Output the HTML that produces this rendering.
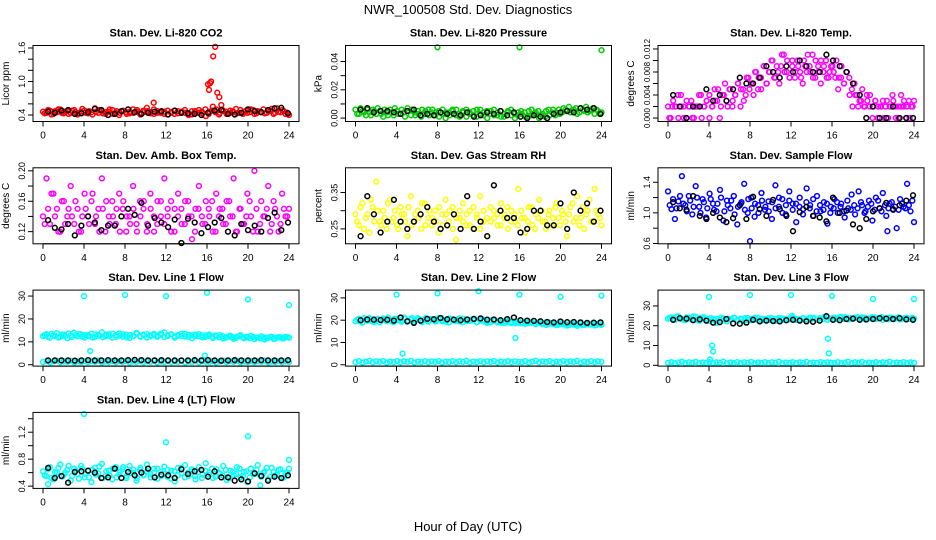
<!DOCTYPE html>
<html><head><meta charset="utf-8"><style>
html,body{margin:0;padding:0;background:#fff;}
svg{display:block;font-family:"Liberation Sans",sans-serif;}
</style></head><body>
<svg id="chart" width="936" height="540" viewBox="0 0 936 540" xmlns="http://www.w3.org/2000/svg">
<rect width="936" height="540" fill="#fff"/>
<text x="468" y="14" text-anchor="middle" font-size="13">NWR_100508  Std. Dev. Diagnostics</text>
<text x="468" y="531" text-anchor="middle" font-size="13">Hour of Day (UTC)</text>
</svg>
<script>
// ---- data ----
const xTicks = [0,4,8,12,16,20,24];
const co2Red = [0.46,0.44,0.48,0.42,0.45,0.50,0.43,0.47,0.44,0.49,0.41,0.46,0.48,0.43,0.45,0.52,0.44,0.47,0.42,0.46,0.49,0.44,0.40,0.47,0.45,0.43,0.50,0.46,0.44,0.48,0.53,0.45,0.42,0.47,0.44,0.46,0.41,0.45,0.48,0.43,0.46,0.44,0.40,0.47,0.45,0.49,0.43,0.38,0.46,0.55,0.50,0.44,0.47,0.42,0.48,0.45,0.43,0.49,0.46,0.44,0.50,0.42,0.47,0.45,0.43,0.48,0.51,0.44,0.46,0.49,0.42,0.40];
const co2Red2 = [0.43,0.49,0.41,0.47,0.50,0.44,0.46,0.42,0.48,0.45,0.43,0.51,0.44,0.47,0.41,0.46,0.49,0.43,0.45,0.50,0.42,0.47,0.44,0.48,0.42,0.46,0.44,0.49,0.41,0.45,0.47,0.43,0.50,0.44,0.46,0.42,0.48,0.44,0.42,0.47,0.45,0.49,0.43,0.41,0.47,0.44,0.46,0.50,0.42,0.48,0.45,0.41,0.49,0.46,0.43,0.47,0.51,0.44,0.42,0.48,0.45,0.49,0.43,0.46,0.50,0.44,0.47,0.42,0.52,0.45,0.47,0.44];
const co2OutX = [10.8,16.1,16.2,16.3,16.4,16.6,16.8,17.0,17.2,17.4];
const co2OutY = [0.62,0.95,0.85,0.97,1.0,1.45,1.62,0.80,0.72,0.58];
const co2Black = [0.46,0.44,0.48,0.49,0.42,0.43,0.45,0.51,0.49,0.40,0.42,0.47,0.50,0.45,0.42,0.44,0.46,0.47,0.41,0.48,0.44,0.43,0.42,0.40,0.44,0.48,0.49,0.42,0.41,0.44,0.50,0.47,0.45,0.49,0.52,0.53,0.43];
const presGreen = [0.006,0.003,0.005,0.002,0.004,0.006,0.003,0.005,0.001,0.004,0.006,0.002,0.005,0.003,0.004,0.007,0.002,0.004,0.005,0.001,0.003,0.006,0.004,0.002,0.005,0.003,0.000,0.004,0.006,0.002,0.003,0.005,0.001,0.004,0.002,0.006,0.003,0.004,0.000,0.005,0.002,0.004,0.001,0.003,0.005,0.002,0.000,0.004,0.003,0.001,0.005,0.002,0.004,0.000,0.003,0.005,0.002,0.006,0.004,0.003,0.007,0.005,0.004,0.006,0.003,0.007,0.005,0.004,0.006,0.003,0.005,0.004];
const presGreen2 = [0.003,0.007,0.004,0.006,0.002,0.005,0.007,0.003,0.006,0.002,0.004,0.007,0.003,0.006,0.001,0.005,0.006,0.002,0.003,0.006,0.005,0.002,0.006,0.004,0.001,0.006,0.004,0.002,0.005,0.006,0.001,0.004,0.006,0.003,0.005,0.001,0.006,0.002,0.005,0.003,0.006,0.002,0.005,0.001,0.004,0.006,0.003,0.002,0.005,0.004,0.001,0.006,0.003,0.005,0.002,0.001,0.006,0.004,0.002,0.006,0.004,0.006,0.008,0.005,0.007,0.004,0.006,0.008,0.005,0.007,0.006,0.003];
const presOutX = [8,16,24];
const presOutY = [0.050,0.050,0.048];
const presBlack = [0.006,0.007,0.004,0.005,0.005,0.004,0.003,0.005,0.006,0.002,0.003,0.002,0.004,0.003,0.003,0.002,0.004,0.001,0.002,0.004,0.003,0.005,0.002,0.004,0.001,0.000,0.002,0.001,0.000,0.003,0.004,0.005,0.004,0.007,0.006,0.007,0.003];
const tempMag = [0.002,0.000,0.003,0.002,0.000,0.004,0.002,0.000,0.002,0.003,0.000,0.002,0.004,0.000,0.002,0.003,0.004,0.002,0.005,0.003,0.000,0.004,0.006,0.002,0.005,0.003,0.004,0.006,0.002,0.005,0.004,0.007,0.006,0.004,0.008,0.007,0.005,0.009,0.006,0.008,0.010,0.007,0.009,0.006,0.011,0.008,0.010,0.007,0.009,0.007,0.010,0.008,0.006,0.009,0.011,0.008,0.007,0.010,0.009,0.006,0.008,0.010,0.007,0.009,0.008,0.010,0.007,0.009,0.006,0.008,0.007,0.005,0.006,0.004,0.003,0.005,0.002,0.003,0.004,0.002,0.003,0.000,0.002,0.003,0.002,0.000,0.002,0.003,0.000,0.002,0.004,0.002,0.000,0.003,0.002,0.003];
const tempMag2 = [0.000,0.002,0.002,0.004,0.002,0.000,0.003,0.002,0.000,0.002,0.002,0.004,0.002,0.003,0.000,0.002,0.003,0.005,0.002,0.004,0.003,0.005,0.002,0.004,0.006,0.005,0.003,0.007,0.005,0.006,0.008,0.005,0.007,0.009,0.006,0.008,0.010,0.007,0.008,0.009,0.011,0.008,0.007,0.010,0.008,0.009,0.007,0.010,0.008,0.009,0.011,0.007,0.008,0.010,0.009,0.007,0.008,0.009,0.007,0.005,0.007,0.006,0.008,0.004,0.002,0.004,0.002,0.003,0.002,0.004,0.002,0.000,0.003,0.002,0.002,0.000,0.003,0.002,0.004,0.002,0.000,0.002,0.003,0.002,0.000,0.002];
const tempBlack = [0.004,0.002,0.000,0.002,0.002,0.005,0.003,0.004,0.003,0.005,0.007,0.006,0.006,0.007,0.009,0.008,0.007,0.009,0.008,0.010,0.009,0.008,0.008,0.011,0.010,0.009,0.008,0.006,0.004,0.000,0.002,0.000,0.000,0.002,0.000,0.000,0.000];
const ambMag = [0.14,0.19,0.13,0.17,0.15,0.12,0.16,0.14,0.18,0.13,0.15,0.12,0.17,0.14,0.16,0.13,0.15,0.19,0.12,0.14,0.16,0.13,0.17,0.15,0.12,0.14,0.18,0.13,0.16,0.15,0.12,0.17,0.14,0.13,0.16,0.19,0.14,0.12,0.15,0.17,0.13,0.16,0.14,0.11,0.15,0.18,0.13,0.16,0.14,0.12,0.17,0.15,0.13,0.16,0.14,0.19,0.12,0.15,0.13,0.17,0.14,0.20,0.12,0.16,0.14,0.18,0.13,0.15,0.12,0.17,0.14,0.15];
const ambMag2 = [0.13,0.15,0.17,0.14,0.12,0.16,0.13,0.15,0.14,0.16,0.12,0.14,0.15,0.13,0.17,0.14,0.12,0.15,0.16,0.13,0.14,0.15,0.12,0.16,0.14,0.13,0.15,0.12,0.14,0.16,0.13,0.15,0.12,0.16,0.14,0.13,0.15,0.16,0.12,0.14,0.15,0.13,0.16,0.14,0.12,0.15,0.14,0.13,0.15,0.16,0.12,0.14,0.15,0.13,0.16,0.14,0.12,0.15,0.13,0.14,0.16,0.12,0.15,0.13,0.14,0.15,0.12,0.16,0.14,0.13,0.15,0.14];
const ambBlack = [0.135,0.125,0.123,0.130,0.115,0.128,0.140,0.132,0.122,0.128,0.128,0.140,0.150,0.142,0.158,0.128,0.138,0.132,0.126,0.136,0.105,0.137,0.132,0.118,0.126,0.132,0.138,0.120,0.115,0.130,0.122,0.128,0.120,0.138,0.145,0.122,0.132];
const rhYel = [0.29,0.26,0.32,0.28,0.24,0.31,0.38,0.27,0.30,0.25,0.33,0.28,0.26,0.31,0.29,0.23,0.34,0.27,0.30,0.25,0.32,0.28,0.26,0.30,0.24,0.29,0.33,0.27,0.31,0.22,0.28,0.32,0.26,0.30,0.25,0.29,0.34,0.27,0.23,0.31,0.28,0.26,0.32,0.29,0.25,0.30,0.27,0.36,0.28,0.24,0.31,0.26,0.29,0.33,0.27,0.25,0.30,0.28,0.32,0.26,0.29,0.23,0.31,0.27,0.34,0.28,0.25,0.30,0.27,0.36,0.29,0.26];
const rhYel2 = [0.27,0.31,0.25,0.29,0.33,0.27,0.30,0.26,0.28,0.32,0.27,0.30,0.25,0.29,0.27,0.31,0.26,0.29,0.28,0.32,0.26,0.30,0.28,0.27,0.31,0.26,0.29,0.30,0.25,0.28,0.30,0.27,0.29,0.26,0.31,0.28,0.25,0.30,0.28,0.27,0.30,0.29,0.26,0.28,0.31,0.27,0.29,0.26,0.30,0.28,0.27,0.31,0.25,0.28,0.30,0.27,0.29,0.26,0.31,0.28,0.30,0.27,0.29,0.32,0.28,0.26,0.31,0.29,0.33,0.27,0.30,0.28];
const rhBlack = [0.23,0.34,0.29,0.24,0.27,0.33,0.27,0.25,0.27,0.29,0.31,0.27,0.25,0.26,0.29,0.25,0.34,0.25,0.27,0.23,0.37,0.30,0.28,0.28,0.24,0.25,0.30,0.30,0.26,0.26,0.32,0.25,0.35,0.30,0.32,0.27,0.30];
const flowBlue = [1.28,1.05,0.92,1.15,1.48,1.10,1.22,0.98,1.35,1.08,1.18,0.94,1.25,1.12,1.02,1.30,0.90,1.16,1.06,1.22,0.85,1.12,1.38,1.00,1.20,0.95,1.10,1.26,1.04,1.15,0.92,1.36,1.08,1.18,0.98,1.28,1.12,0.88,1.20,1.05,1.32,1.10,0.96,1.22,1.02,1.14,0.86,1.08,1.18,1.00,1.12,0.94,1.06,1.24,0.98,1.28,1.10,1.02,1.16,0.90,1.20,1.06,1.26,0.96,1.12,1.04,0.80,1.18,1.08,1.38,1.02,0.88];
const flowBlue2 = [1.10,1.18,1.06,1.22,1.12,1.02,1.16,1.08,1.20,1.00,1.14,1.06,1.18,1.04,1.12,1.20,1.02,1.10,1.16,0.98,1.08,1.14,1.04,1.18,1.06,1.12,1.00,1.16,1.08,1.02,1.14,1.06,1.20,1.00,1.10,1.16,1.04,1.12,1.08,0.98,1.14,1.06,1.18,1.02,1.10,1.04,1.12,1.00,1.06,1.14,1.08,1.02,1.16,1.04,1.10,1.06,1.14,1.00,1.08,1.12,1.04,1.16,1.02,1.10,1.06,1.14,1.08,1.04,1.12,1.06,1.10,1.16];
const flowOutX = [8,21.4];
const flowOutY = [0.63,0.76];
const flowBlack = [1.14,1.06,1.04,1.22,0.96,0.92,1.00,0.94,0.88,0.93,1.10,0.92,1.21,1.05,0.96,1.17,1.05,0.96,0.76,1.01,1.08,0.96,0.94,0.89,1.20,1.00,1.03,0.85,0.80,0.92,1.02,1.06,1.13,1.05,1.10,1.16,1.23];
const l1Cyan = [12.5,13.4,11.8,12.9,13.8,12.2,13.1,11.6,12.7,14.0,12.4,13.3,11.9,12.8,13.6,12.1,13.0,14.2,12.5,13.4,11.8,12.9,13.7,12.3,13.1,11.7,12.6,13.9,12.4,13.2,11.9,12.8,13.5,12.2,13.0,14.1,12.6,13.3,11.8,12.7,13.6,12.3,13.1,11.6,12.5,13.4,12.0,12.8,13.2,11.7,12.4,13.0,11.5,12.1,12.7,11.3,12.2,12.9,11.6,12.0,12.6,11.2,11.9,12.4,11.0,11.8,12.3,11.4,12.0,11.6,12.2,11.8];
const l1Cyan2 = [13.0,12.2,13.5,12.6,11.9,13.2,12.4,13.7,12.1,12.9,13.4,12.3,13.0,12.5,11.9,13.3,12.7,12.0,13.1,12.6,13.5,12.2,12.8,13.3,12.0,13.0,12.5,13.6,12.2,12.9,13.4,12.4,13.0,12.7,13.6,12.1,12.9,13.3,12.4,13.0,12.6,13.5,12.2,12.8,13.2,12.4,12.9,12.1,12.6,12.2,12.8,12.0,12.5,11.8,12.3,12.0,11.7,12.4,11.9,12.2,11.6,12.1,11.8,11.5,12.0,11.7,12.1,11.3,11.9,12.0,11.5,12.1];
const lowCyan = [1.2,1.6,1.0,1.4,1.8,1.1,1.5,1.3,1.7,1.0,1.4,1.2,1.6,1.1,1.5,1.3,1.8,1.0,1.4,1.2,1.6,1.1,1.5,1.3,1.7,1.0,1.4,1.2,1.6,1.1,1.5,1.3,1.8,1.0,1.4,1.2,1.6,1.1,1.5,1.3,1.7,1.0,1.4,1.2,1.6,1.1,1.5,1.3,1.2,1.6,1.0,1.4,1.8,1.1,1.5,1.3,1.7,1.0,1.4,1.2,1.6,1.1,1.5,1.3,1.8,1.0,1.4,1.2,1.6,1.1,1.5,1.3];
const l1OutX = [4,4.6,8,12,15.8,16,20,24];
const l1OutY = [30,6,30.5,30,4,31.5,28.5,26];
const l1Black = [1.9,1.9,1.9,1.9,1.8,1.9,2.0,1.9,1.9,2.0,1.9,1.9,2.0,2.1,2.0,1.9,1.9,2.0,1.9,1.9,1.9,1.9,2.0,1.9,2.0,1.9,1.8,1.9,2.0,1.9,1.9,1.9,2.0,1.9,1.9,1.9,2.0];
const l2Cyan = [19.5,20.6,18.9,20.2,21.0,19.3,20.4,19.0,20.8,19.6,20.1,19.2,20.7,19.8,21.2,19.4,20.3,19.1,20.9,19.7,20.2,19.3,20.6,19.9,21.0,19.5,20.1,19.0,20.5,19.6,20.8,19.2,20.3,19.7,20.0,19.1,20.4,19.5,18.8,19.9,20.2,19.0,19.6,18.7,19.8,19.2,18.6,19.5,19.0,18.4,19.3,18.8,18.2,19.1,18.5,17.9,18.9,18.3,17.8,18.7,18.1,17.6,18.5,18.0,17.5,18.4,17.9,18.6,18.1,17.7,18.4,17.9];
const l2Cyan2 = [20.2,19.4,20.9,19.8,20.5,19.1,20.6,19.9,20.3,21.1,19.5,20.7,20.0,19.3,20.8,19.6,21.0,19.8,20.4,19.2,20.9,19.7,20.3,19.4,20.6,20.0,19.3,20.8,19.9,20.2,19.4,20.7,19.6,20.1,20.6,19.2,19.9,20.3,19.5,19.1,19.8,19.4,18.9,19.6,19.2,18.8,19.5,18.9,18.6,19.3,18.7,19.1,18.5,18.9,18.4,18.8,18.2,18.7,18.3,18.0,18.6,18.2,17.8,18.5,18.1,18.4,17.8,18.3,18.0,18.5,17.8,18.2];
const l2OutX = [4,4.6,8,12,15.6,16,20,24];
const l2OutY = [31.5,5,32,33,12,31.5,30.5,31];
const l2Black = [20.0,20.3,20.2,20.1,20.2,19.8,21.2,19.5,18.8,19.8,20.6,20.4,21.0,20.4,20.2,20.0,20.3,20.6,20.8,20.2,20.3,20.0,20.5,21.2,20.0,19.8,19.7,19.5,19.2,19.0,19.4,19.1,19.2,19.0,18.8,18.9,19.0];
const l3Cyan = [23.6,24.2,23.0,24.8,23.4,22.8,24.0,23.2,24.5,22.6,23.8,23.1,22.4,23.5,21.5,22.9,23.7,22.2,23.3,24.1,22.7,23.6,22.5,23.9,22.8,23.2,24.0,22.6,23.4,22.9,23.8,22.4,23.1,23.7,22.7,23.5,24.2,22.9,23.3,23.8,22.6,23.4,24.0,23.1,23.7,24.3,23.0,23.6,24.1,23.3,23.9,24.4,23.2,23.8,24.0,23.5,24.2,23.1,23.7,24.3,23.4,23.9,23.0,23.6,24.1,23.3,23.8,23.2,23.7,24.0,23.4,23.6];
const l3Cyan2 = [24.0,23.3,24.5,23.7,23.1,24.2,23.5,24.7,23.0,23.9,24.3,23.4,23.8,22.9,23.5,24.1,22.8,23.6,23.2,23.9,22.6,23.3,23.8,22.9,23.4,24.0,22.7,23.5,23.1,23.8,22.6,23.4,23.9,23.0,23.6,23.2,23.9,23.4,22.9,23.7,23.3,24.1,23.6,23.0,23.8,23.4,24.2,23.7,23.1,23.9,24.5,23.5,24.0,23.4,23.9,24.3,23.6,24.1,23.5,23.9,24.2,23.7,24.4,23.8,23.3,24.0,23.6,24.2,23.5,23.9,23.4,24.0];
const l3OutX = [4,4.1,4.3,4.4,8,12,12.1,15.6,15.7,16,20,24];
const l3OutY = [34.5,3,10,7,35.5,35.5,25,13.5,6,35,33.5,33.5];
const l3Black = [23.0,23.8,23.6,22.8,23.2,22.6,21.6,21.8,23.4,21.2,21.0,21.6,23.0,22.2,22.6,22.4,22.2,22.8,23.0,22.6,22.2,22.0,22.6,24.8,23.0,22.8,23.4,23.6,23.0,23.2,23.4,23.8,23.6,23.4,23.8,23.2,23.0];
const l4Cyan = [0.62,0.55,0.68,0.50,0.60,0.72,0.57,0.64,0.48,0.66,0.58,0.70,0.53,0.62,0.46,0.67,0.59,0.73,0.55,0.63,0.50,0.68,0.57,0.65,0.52,0.70,0.60,0.48,0.64,0.56,0.72,0.58,0.66,0.51,0.61,0.69,0.54,0.63,0.47,0.67,0.59,0.71,0.55,0.62,0.50,0.68,0.57,0.74,0.60,0.52,0.65,0.58,0.70,0.49,0.63,0.56,0.68,0.53,0.61,0.46,0.66,0.58,0.71,0.54,0.62,0.50,0.67,0.56,0.64,0.52,0.60,0.66];
const l4Cyan2 = [0.56,0.65,0.52,0.61,0.67,0.54,0.60,0.70,0.55,0.63,0.51,0.66,0.58,0.53,0.64,0.57,0.69,0.52,0.62,0.56,0.66,0.53,0.61,0.68,0.55,0.59,0.64,0.52,0.67,0.57,0.62,0.53,0.60,0.66,0.55,0.58,0.64,0.51,0.62,0.56,0.67,0.53,0.60,0.65,0.55,0.61,0.52,0.63,0.57,0.66,0.54,0.60,0.56,0.64,0.52,0.61,0.58,0.66,0.55,0.62,0.53,0.59,0.64,0.56,0.60,0.67,0.54,0.61,0.57,0.65,0.53,0.60];
const l4OutX = [4,12,20,24,0.5,21.2];
const l4OutY = [1.47,1.05,1.14,0.79,0.43,0.41];
const l4Black = [0.67,0.52,0.55,0.45,0.61,0.62,0.63,0.60,0.52,0.53,0.66,0.52,0.61,0.56,0.60,0.66,0.53,0.57,0.56,0.52,0.65,0.58,0.62,0.64,0.54,0.62,0.53,0.53,0.48,0.50,0.47,0.59,0.55,0.48,0.54,0.52,0.56];
const tMag = "#ff00ff", tCy = "#00ffff";

// ---- layout (not data) ----
const panels = [
 {name:'co2',title:'Stan. Dev. Li-820 CO2',ylab:'Licor ppm',col:0,row:0,ylim:[0.284,1.645],yt:[0.4,0.6,0.8,1.0,1.2,1.4,1.6],yl:['0.4','','','1.0','','','1.6'],
  series:[[co2Red,'#ff0000','c'],[co2Red2,'#ff0000','c2'],[co2OutY,'#ff0000','o',co2OutX],[co2Black,'#000','b']]},
 {name:'pressure',title:'Stan. Dev. Li-820 Pressure',ylab:'kPa',col:1,row:0,ylim:[-0.0024,0.0513],yt:[0,0.01,0.02,0.03,0.04],yl:['0.00','','0.02','','0.04'],
  series:[[presGreen,'#00cc00','c'],[presGreen2,'#00cc00','c2'],[presOutY,'#00cc00','o',presOutX],[presBlack,'#000','b']]},
 {name:'temp',title:'Stan. Dev. Li-820 Temp.',ylab:'degrees C',col:2,row:0,yfs:8,ylim:[-0.0006,0.0126],yt:[0,0.002,0.004,0.006,0.008,0.010,0.012],yl:['0.000','','0.004','','0.008','','0.012'],
  series:[[tempMag,tMag,'c'],[tempMag2,tMag,'c2'],[tempBlack,'#000','b']]},
 {name:'amb-box',title:'Stan. Dev. Amb. Box Temp.',ylab:'degrees C',col:0,row:1,ylim:[0.104,0.204],yt:[0.12,0.14,0.16,0.18,0.20],yl:['0.12','','0.16','','0.20'],
  series:[[ambMag,tMag,'c'],[ambMag2,tMag,'c2'],[ambBlack,'#000','b']]},
 {name:'rh',title:'Stan. Dev. Gas Stream RH',ylab:'percent',col:1,row:1,ylim:[0.209,0.418],yt:[0.25,0.30,0.35],yl:['0.25','','0.35'],
  series:[[rhYel,'#ffff00','c'],[rhYel2,'#ffff00','c2'],[rhBlack,'#000','b']]},
 {name:'sample-flow',title:'Stan. Dev. Sample Flow',ylab:'ml/min',col:2,row:1,ylim:[0.596,1.589],yt:[0.6,0.8,1.0,1.2,1.4],yl:['0.6','','1.0','','1.4'],
  series:[[flowBlue,'#0000ff','c'],[flowBlue2,'#0000ff','c2'],[flowOutY,'#0000ff','o',flowOutX],[flowBlack,'#000','b']]},
 {name:'line1',title:'Stan. Dev. Line 1 Flow',ylab:'ml/min',col:0,row:2,ylim:[-0.6,32.6],yt:[0,10,20,30],yl:['0','10','20','30'],
  series:[[l1Cyan,tCy,'c'],[l1Cyan2,tCy,'c2'],[lowCyan,tCy,'c'],[l1OutY,tCy,'o',l1OutX],[l1Black,'#000','b']]},
 {name:'line2',title:'Stan. Dev. Line 2 Flow',ylab:'ml/min',col:1,row:2,ylim:[-0.6,33.5],yt:[0,10,20,30],yl:['0','10','20','30'],
  series:[[l2Cyan,tCy,'c'],[l2Cyan2,tCy,'c2'],[lowCyan,tCy,'c'],[l2OutY,tCy,'o',l2OutX],[l2Black,'#000','b']]},
 {name:'line3',title:'Stan. Dev. Line 3 Flow',ylab:'ml/min',col:2,row:2,ylim:[-0.4,38],yt:[0,10,20,30],yl:['0','10','20','30'],
  series:[[l3Cyan,tCy,'c'],[l3Cyan2,tCy,'c2'],[lowCyan,tCy,'c'],[l3OutY,tCy,'o',l3OutX],[l3Black,'#000','b']]},
 {name:'line4',title:'Stan. Dev. Line 4 (LT) Flow',ylab:'ml/min',col:0,row:3,ylim:[0.366,1.494],yt:[0.4,0.6,0.8,1.0,1.2,1.4],yl:['0.4','','0.8','','1.2',''],
  series:[[l4Cyan,tCy,'c'],[l4Cyan2,tCy,'c2'],[l4OutY,tCy,'o',l4OutX],[l4Black,'#000','b']]}
];
const NS = 'http://www.w3.org/2000/svg';
const svg = document.getElementById('chart');
function mk(tag, attrs, parent){ const e=document.createElementNS(NS,tag); for(const k in attrs) e.setAttribute(k,attrs[k]); parent.appendChild(e); return e; }

panels.forEach(p=>{
  const x0 = 43 + 312.5*p.col, x1 = x0 + 246;
  const top = 45.5 + 122.3*p.row, bot = top + 76;
  const left = x0-10, right = x1+10;
  const xs = h => x0 + (h/24)*(x1-x0);
  const ys = v => bot - (v-p.ylim[0])/(p.ylim[1]-p.ylim[0])*(bot-top);
  const g = mk('g',{},svg);
  
  
  const t = mk('text',{x:(left+right)/2,y:top-9,'text-anchor':'middle','font-size':'11','font-weight':'bold'},g);
  t.textContent = p.title;
  
  
  const yl = mk('text',{x:0,y:0,'text-anchor':'middle','font-size':'10',transform:`translate(${left-24},${(top+bot)/2}) rotate(-90)`},g);
  yl.textContent = p.ylab;
  
  
  const mg = mk('g',{fill:'none','stroke-width':'1.5'},g);
  
  
  p.series.forEach(s=>{
    const vals=s[0], col=s[1], kind=s[2];
    vals.forEach((v,i)=>{
      let h;
      if(kind==='o') h = s[3][i];
      else if(kind==='b') h = 0.5 + i*23.4/(vals.length-1);
      else if(kind==='c2') h = (i+0.5)*24/vals.length;
      else h = i*24/(vals.length-1);
      const c = mk('circle',{cx:xs(h).toFixed(1),cy:ys(v).toFixed(1),r:'2.4',stroke:col},mg);
      
      
    });
  });
  const box = mk('rect',{x:left,y:top,width:right-left,height:bot-top,fill:'none',stroke:'#000','stroke-width':'1'},g);
  
  
  const xa = mk('g',{},g);
  
  
  mk('line',{x1:xs(xTicks[0]),x2:xs(xTicks[xTicks.length-1]),y1:bot,y2:bot,stroke:'#000'},xa);
  xTicks.forEach(h=>{
    mk('line',{x1:xs(h),x2:xs(h),y1:bot,y2:bot+5,stroke:'#000'},xa);
    const lt = mk('text',{x:xs(h),y:bot+17,'text-anchor':'middle','font-size':'10'},xa);
    lt.textContent = String(h);
  });
  const ya = mk('g',{},g);
  
  
  mk('line',{x1:left,x2:left,y1:ys(p.yt[0]),y2:ys(p.yt[p.yt.length-1]),stroke:'#000'},ya);
  p.yt.forEach((v,i)=>{
    mk('line',{x1:left-5,x2:left,y1:ys(v),y2:ys(v),stroke:'#000'},ya);
    if(p.yl[i]){
      const lt = mk('text',{x:0,y:0,'text-anchor':'middle','font-size':String(p.yfs||9),transform:`translate(${left-8},${ys(v)}) rotate(-90)`},ya);
      lt.textContent = p.yl[i];
    }
  });
});
</script>
</body></html>
